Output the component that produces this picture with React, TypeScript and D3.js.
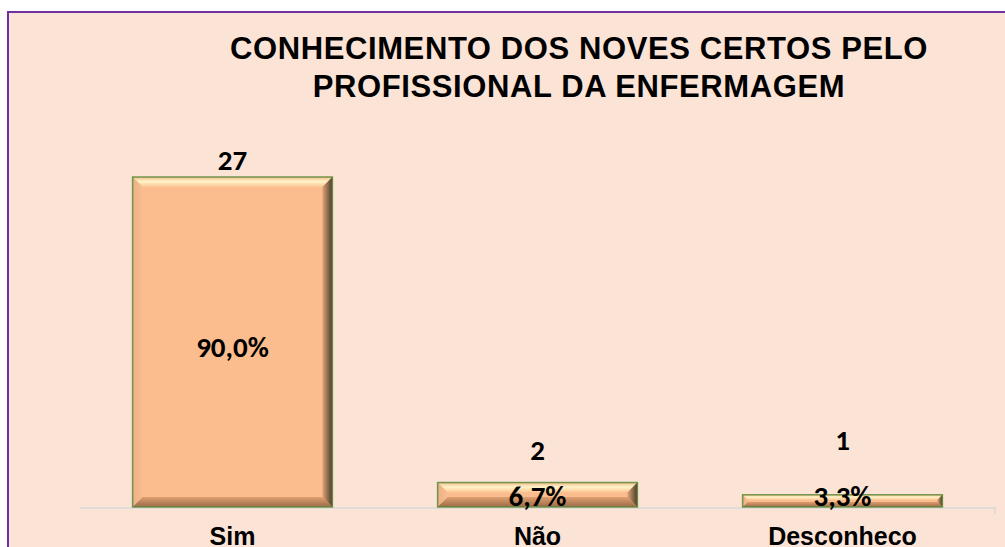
import React from 'react'
import * as d3 from 'd3'

const CATEGORIES = ['Sim', 'Não', 'Desconheco']
const COUNTS = [27, 2, 1]
const PERCENTS = ['90,0%', '6,7%', '3,3%']
const TITLE_LINES = ['CONHECIMENTO DOS NOVES CERTOS PELO', 'PROFISSIONAL DA ENFERMAGEM']

const W = 1005
const H = 547
const plot = { left: 80, right: 995, top: 177, bottom: 507 }
// gap between bar top and the count label (the small bars had theirs moved up by hand)
const COUNT_GAP = [7, 23, 45]

export default function App() {
  const x = d3.scaleBand<string>().domain(CATEGORIES).range([plot.left, plot.right]).paddingInner(0.345).paddingOuter(0.1725)
  const y = d3.scaleLinear().domain([0, 27]).range([plot.bottom, plot.top])
  const bw = x.bandwidth()
  const labelFont = 'Carlito, Calibri, Liberation Sans, sans-serif'

  return (
    <svg width={W} height={H} style={{ position: 'absolute', left: 0, top: 0 }}>
      <defs>
        <linearGradient id="topBevel" x1="0" y1="0" x2="0" y2="1">
          <stop offset="0" stopColor="#f2c08e" />
          <stop offset="0.45" stopColor="#fff3c8" />
          <stop offset="1" stopColor="#fbc592" />
        </linearGradient>
        <linearGradient id="rightBevel" x1="0" y1="0" x2="1" y2="0">
          <stop offset="0" stopColor="#e0a57a" />
          <stop offset="1" stopColor="#4a3a28" />
        </linearGradient>
        <linearGradient id="leftBevel" x1="0" y1="0" x2="1" y2="0">
          <stop offset="0" stopColor="#e9b088" />
          <stop offset="1" stopColor="#fbbd8e" />
        </linearGradient>
        <linearGradient id="bottomBevel" x1="0" y1="0" x2="0" y2="1">
          <stop offset="0" stopColor="#e0a070" />
          <stop offset="1" stopColor="#9a6a48" />
        </linearGradient>
      </defs>
      <rect x={0} y={0} width={W} height={H} fill="#fff" />
      <rect x={8} y={12} width={W + 10} height={H + 10} fill="#fbe4d6" stroke="#7030a0" strokeWidth={2} />

      {TITLE_LINES.map((t, i) => (
        <text key={t} x={579} y={59 + i * 38} textAnchor="middle" fontFamily="Liberation Sans, Arial, sans-serif"
          fontWeight="bold" fontSize={31} letterSpacing={0.6} fill="#000">{t}</text>
      ))}

      {/* axis line */}
      <path d={`M${plot.left},${plot.bottom + 1}H${plot.right}V${plot.bottom + 7}`} fill="none" stroke="#d9d9d9" strokeWidth={1.5} />

      {CATEGORIES.map((c, i) => {
        const x0 = x(c)!
        const x1 = x0 + bw
        const y0 = y(COUNTS[i])
        const y1 = plot.bottom
        const h = y1 - y0
        const b = Math.min(10, h / 2 - 1)
        const cx = x0 + bw / 2
        return (
          <g key={c}>
            <rect x={x0} y={y0} width={bw} height={h} fill="#fbbd8e" />
            <polygon points={`${x0},${y0} ${x1},${y0} ${x1 - b},${y0 + b} ${x0 + b},${y0 + b}`} fill="url(#topBevel)" />
            <polygon points={`${x1},${y0} ${x1},${y1} ${x1 - b},${y1 - b} ${x1 - b},${y0 + b}`} fill="url(#rightBevel)" />
            <polygon points={`${x0},${y0} ${x0 + b},${y0 + b} ${x0 + b},${y1 - b} ${x0},${y1}`} fill="url(#leftBevel)" />
            <polygon points={`${x0},${y1} ${x0 + b},${y1 - b} ${x1 - b},${y1 - b} ${x1},${y1}`} fill="url(#bottomBevel)" />
            <rect x={x0} y={y0} width={bw} height={h} fill="none" stroke="#5a8a3a" strokeWidth={1.5} opacity={0.85} />
            <text x={cx} y={y0 - COUNT_GAP[i]} textAnchor="middle" fontFamily={labelFont}
              fontWeight="bold" fontSize={29} fill="#000">{COUNTS[i]}</text>
            <text x={cx} y={i === 0 ? (y0 + y1) / 2 + 15 : y1 - 1} textAnchor="middle"
              fontFamily={labelFont} fontWeight="bold" fontSize={29} fill="#000">{PERCENTS[i]}</text>
            <text x={cx} y={545} textAnchor="middle" fontFamily="Liberation Sans, Arial, sans-serif"
              fontWeight="bold" fontSize={25} fill="#000">{c}</text>
          </g>
        )
      })}
    </svg>
  )
}
